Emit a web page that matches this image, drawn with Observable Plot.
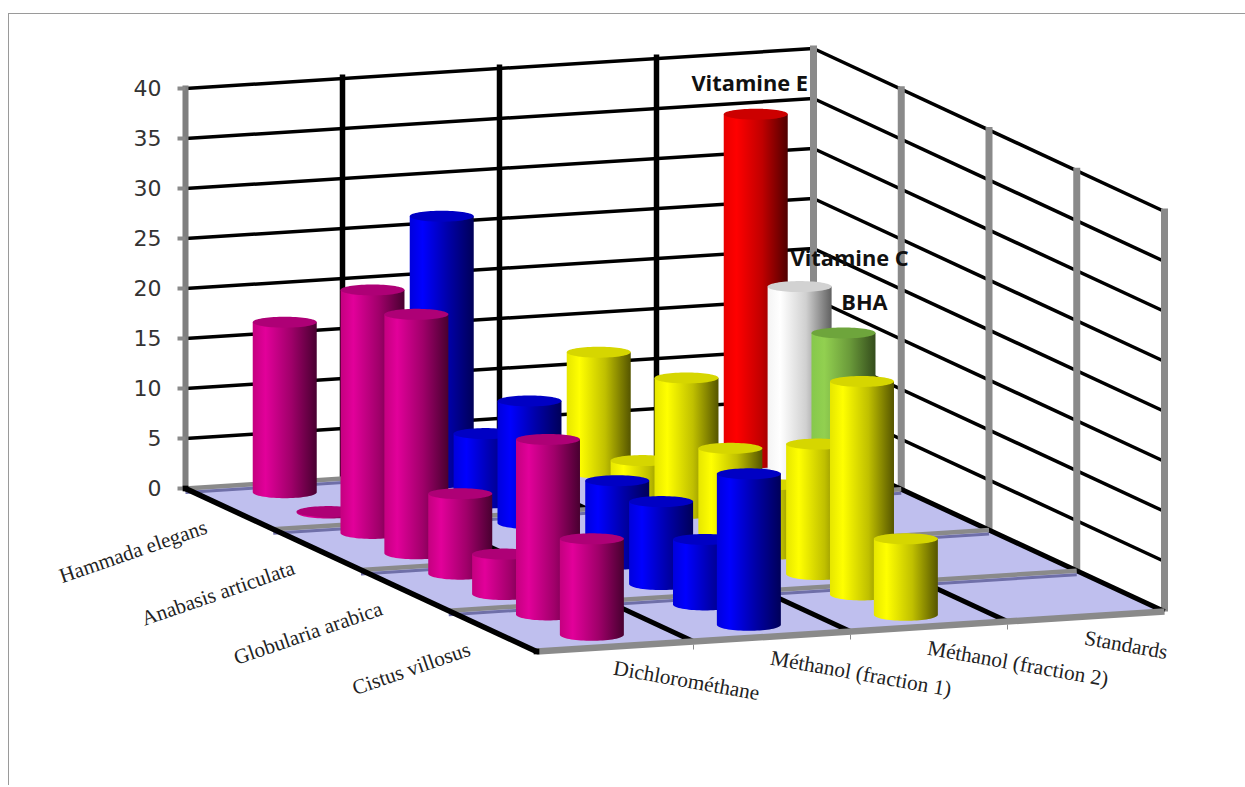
<!DOCTYPE html>
<html>
<head>
<meta charset="utf-8">
<title>Activité par extrait</title>
<style>
  html, body { margin: 0; padding: 0; background: #fff; }
  svg { display: block; }
</style>
<script src="https://cdn.jsdelivr.net/npm/d3@7"></script>
<script src="https://cdn.jsdelivr.net/npm/@observablehq/plot@0.6"></script>
</head>
<body>
<div id="chart"></div>
<script>
// Species shown on the depth axis (two rows of bars for each one).
const species = ["Hammada elegans", "Anabasis articulata", "Globularia arabica", "Cistus villosus"];
// Extract families along the width axis.
const extracts = ["Dichlorométhane", "Méthanol (fraction 1)", "Méthanol (fraction 2)", "Standards"];
const valueTicks = [0, 5, 10, 15, 20, 25, 30, 35, 40];

// One value per depth row; null means no bar.
const dichloromethane = [17.0, 0.1, 24.3, 23.9, 8.0, 4.0, 17.5, 9.6];
const methanolF1 = [26.6, 6.9, 12.2, null, 8.3, 8.25, 6.5, 15.1];
const methanolF2 = [12.0, 3.2, 13.5, 8.5, 6.9, 13.0, 21.3, 7.6];
const standards = [34.8, 19.6, 17.0, null, null, null, null, null];
const standardNames = ["Vitamine E", "Vitamine C", "BHA"];

const W = 1245, H = 787;
const ROWS = 8, COLS = 4;

// Oblique projection of the box: u runs along the width, v along the depth, z is the value.
const project = (u, v, z = 0) => ({
  x: 185 + 628 * u + 351 * v,
  y: 488 - 40 * u + 163 * v - 10 * z
});

const paints = {
  pink:   {top: "#ae0076", stops: ["#c4007f", "#e2009a", "#a0006a", "#480030"]},
  blue:   {top: "#0000c4", stops: ["#0000dc", "#0000ff", "#0000a8", "#000058"]},
  yellow: {top: "#d6d600", stops: ["#e6e600", "#ffff00", "#c0c000", "#555500"]},
  red:    {top: "#cc0000", stops: ["#e80000", "#ff0000", "#c00000", "#500000"]},
  white:  {top: "#d2d2d2", stops: ["#f4f4f4", "#ffffff", "#d0d0d0", "#606060"]},
  green:  {top: "#6ea53c", stops: ["#86c84c", "#92d050", "#6a9a3a", "#344c1c"]}
};

const RX = 32, RY_BOTTOM = 6, RY_TOP = 5.5, FOOT = 0.15, NUDGE = 1.2;

const bars = [];
[[dichloromethane, "pink"], [methanolF1, "blue"], [methanolF2, "yellow"]].forEach(([values, paint], c) =>
  values.forEach((value, r) => { if (value != null) bars.push({c, r, value, paint}); })
);
standards.forEach((value, r) => {
  if (value != null) bars.push({c: 3, r, value, paint: ["red", "white", "green"][r], name: standardNames[r]});
});
const barPoint = (b, z) => {
  const p = project((b.c + 0.5) / COLS, (b.r + 0.5) / ROWS, z);
  return {x: p.x - NUDGE, y: p.y};
};
const barFoot = (b) => barPoint(b, FOOT);
const barHead = (b) => barPoint(b, FOOT + b.value);
bars.sort((a, b) => barFoot(a).y - barFoot(b).y);

// Outline of the cylinder's side and of its lid.
const arc = (n = 36) => d3.range(n + 1).map((i) => (Math.PI * i) / n);
function sideOutline(b) {
  const f = barFoot(b), h = barHead(b);
  return [
    {x: h.x - RX, y: h.y},
    {x: h.x + RX, y: h.y},
    ...arc().map((t) => ({x: f.x + RX * Math.cos(t), y: f.y + RY_BOTTOM * Math.sin(t)}))
  ];
}
function lidOutline(b) {
  const h = barHead(b);
  return arc(72).map((t) => ({x: h.x + RX * Math.cos(2 * t), y: h.y + RY_TOP * Math.sin(2 * t)}));
}
const poly = (pts, paint) => Plot.line(pts, {x: "x", y: "y", fill: paint, stroke: "none"});
const seg = (a, b, o) => Plot.line([a, b], {x: "x", y: "y", strokeLinecap: "butt", ...o});

const thirds = d3.range(COLS + 1);
const GREY = "#8a8a8a";

const marks = [
  // sheet outline
  Plot.ruleY([13], {x1: 8, x2: W, stroke: "#9a9a9a", strokeWidth: 1}),
  Plot.ruleX([8], {y1: 13, y2: H - 2, stroke: "#9a9a9a", strokeWidth: 1}),

  // back wall and side wall grid lines
  ...valueTicks.filter((z) => z > 0).flatMap((z) => [
    seg(project(0, 0, z), project(1, 0, z), {stroke: "#000", strokeWidth: 3.5}),
    seg(project(1, 0, z), project(1, 1, z), {stroke: "#000", strokeWidth: 3.5})
  ]),
  ...[1, 2, 3].map((k) =>
    seg(project(k / 4, 0, 0), project(k / 4, 0, 40.4), {stroke: "#000", strokeWidth: 5.5})
  ),
  ...thirds.map((k) =>
    seg(project(1, k / 4, 0), project(1, k / 4, 40.3), {stroke: GREY, strokeWidth: 7})
  ),

  // value axis
  seg(project(0, 0, 0), project(0, 0, 40.3), {stroke: "#7f7f7f", strokeWidth: 6}),
  Plot.link(valueTicks, {
    x1: (z) => project(0, 0, z).x - 8,
    x2: (z) => project(0, 0, z).x,
    y1: (z) => project(0, 0, z).y,
    y2: (z) => project(0, 0, z).y,
    stroke: GREY,
    strokeWidth: 4
  }),
  Plot.text(valueTicks, {
    x: (z) => project(0, 0, z).x - 24,
    y: (z) => project(0, 0, z).y,
    text: (z) => String(z),
    textAnchor: "end",
    fontFamily: "DejaVu Sans",
    fontSize: 22,
    fill: "#333"
  }),

  // floor
  poly([project(0, 0), project(1, 0), project(1, 1), project(0, 1)], "#bfbfee"),
  ...[1, 2, 3, 4].map((k) =>
    seg(project(k / 4, 0), project(k / 4, 1), {stroke: "#000", strokeWidth: 5})
  ),
  ...[0, 1, 2, 3].map((k) =>
    seg(project(0, k / 4), project(1, k / 4), {stroke: "#6f6fa8", strokeWidth: 3, dy: 4})
  ),
  ...[0, 1, 2, 3].map((k) =>
    seg(project(0, k / 4), project(1, k / 4), {stroke: GREY, strokeWidth: 4.5})
  ),
  seg(project(0, 1), project(1, 1), {stroke: GREY, strokeWidth: 6.5}),
  seg(project(0, 0), project(0, 1), {stroke: "#000", strokeWidth: 5.5}),
  Plot.dot([project(0, 1), project(0, 0)], {x: "x", y: "y", symbol: "square", r: 3.2, fill: "#000"}),
  Plot.link([1, 2, 3], {
    x1: (k) => project(k / 4, 1).x,
    x2: (k) => project(k / 4, 1).x,
    y1: (k) => project(k / 4, 1).y + 3,
    y2: (k) => project(k / 4, 1).y + 8,
    stroke: "#8a8a8a",
    strokeWidth: 1
  }),

  // axis labels
  Plot.text(species, {
    x: (d, i) => project(0, (i + 0.5) / 4).x - 21,
    y: (d, i) => project(0, (i + 0.5) / 4).y + 24,
    text: (d) => d,
    rotate: -19,
    textAnchor: "end",
    lineAnchor: "bottom",
    fontFamily: "Liberation Serif",
    fontSize: 21,
    fill: "#222"
  }),
  Plot.text(extracts, {
    x: (d, i) => project((i + 0.5) / 4, 1).x - 2.5,
    y: (d, i) => project((i + 0.5) / 4, 1).y + 28,
    text: (d) => d,
    rotate: 10,
    textAnchor: "start",
    lineAnchor: "bottom",
    fontFamily: "Liberation Serif",
    fontSize: 21.3,
    fill: "#222"
  }),

  // cylinders, back to front
  ...bars.flatMap((b) => [
    poly(sideOutline(b), `url(#side-${b.paint})`),
    poly(lidOutline(b), paints[b.paint].top)
  ]),

  // names of the reference compounds, tied to their cylinders' heads
  ...[[0, -6, -30], [1, 50, -28], [2, 21, -30]].map(([i, dx, dy]) => {
    const b = bars.find((d) => d.name === standardNames[i]);
    const h = barHead(b);
    return Plot.text([b.name], {
      x: () => h.x,
      y: () => h.y,
      dx, dy,
      text: (d) => d,
      fontFamily: "Open Sans",
      fontWeight: 700,
      fontSize: 21.8,
      fill: "#111"
    });
  })
];

const plot = Plot.plot({
  width: W,
  height: H,
  margin: 0,
  style: {background: "#fff"},
  x: {domain: [0, W], range: [0, W], axis: null},
  y: {domain: [0, H], range: [0, H], axis: null},
  marks
});

// Horizontal shading used by the cylinder sides.
const defs = d3.select(plot).insert("defs", ":first-child");
for (const [name, {stops}] of Object.entries(paints)) {
  const g = defs.append("linearGradient").attr("id", `side-${name}`)
    .attr("x1", "0%").attr("x2", "100%").attr("y1", "0%").attr("y2", "0%");
  [0, 0.2, 0.6, 1].forEach((o, i) =>
    g.append("stop").attr("offset", o).attr("stop-color", stops[i])
  );
}
document.getElementById("chart").append(plot);
</script>
</body>
</html>
